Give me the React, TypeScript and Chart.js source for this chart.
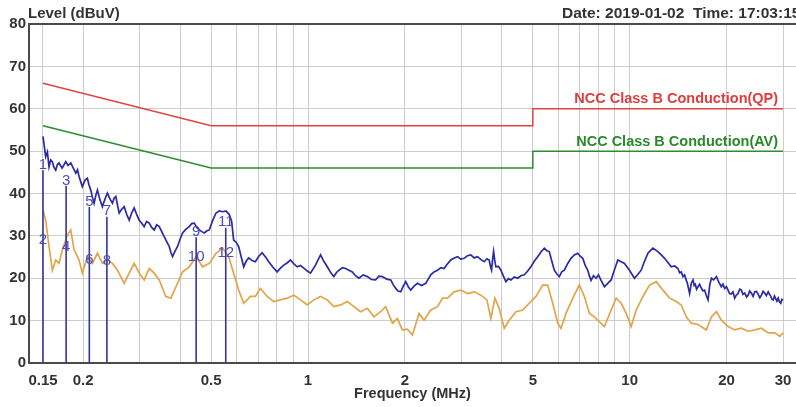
import React, { useEffect, useRef } from "react";
import { Chart, registerables } from "chart.js";

Chart.register(...registerables);

// ---- Data (frequency in MHz, level in dBuV) ----
const blueFreq = [
  0.150, 0.1515, 0.1529, 0.1548, 0.1566, 0.1585, 0.1604, 0.1622, 0.1643, 0.1662,
  0.1682, 0.1720, 0.1765, 0.1795, 0.1830, 0.1860, 0.1897, 0.1920, 0.1942, 0.1965,
  0.1988, 0.2025, 0.2061, 0.2085, 0.2112, 0.2135, 0.2163, 0.2190, 0.2215, 0.2255,
  0.2295, 0.2335, 0.2379, 0.2420, 0.2466, 0.2495, 0.2527, 0.2558, 0.2588, 0.2635,
  0.2682, 0.2730, 0.2780, 0.2830, 0.2881, 0.2935, 0.2987, 0.3040, 0.3095, 0.3150,
  0.3209, 0.3265, 0.3326, 0.3385, 0.3447, 0.3510, 0.3572, 0.3640, 0.3703, 0.3750,
  0.3792, 0.3860, 0.3931, 0.4000, 0.4075, 0.4175, 0.4275, 0.4350, 0.4431, 0.4510,
  0.4593, 0.4680, 0.4761, 0.4850, 0.4933, 0.5050, 0.5177, 0.5300, 0.5428, 0.5560,
  0.5695, 0.5790, 0.5873, 0.5980, 0.6088, 0.6200, 0.6311, 0.6420, 0.6542, 0.6700,
  0.6862, 0.7030, 0.7200, 0.7380, 0.7551, 0.7780, 0.8018, 0.8210, 0.8408, 0.8610,
  0.8822, 0.9040, 0.9258, 0.9480, 0.9707, 0.9950, 1.018, 1.055, 1.094, 1.120,
  1.148, 1.175, 1.203, 1.225, 1.248, 1.280, 1.309, 1.340, 1.373, 1.405,
  1.440, 1.485, 1.529, 1.575, 1.623, 1.660, 1.703, 1.755, 1.808, 1.840,
  1.874, 1.905, 1.942, 1.975, 2.013, 2.050, 2.086, 2.140, 2.189, 2.255,
  2.323, 2.365, 2.408, 2.465, 2.527, 2.590, 2.649, 2.715, 2.780, 2.850,
  2.917, 2.985, 3.058, 3.130, 3.208, 3.285, 3.366, 3.450, 3.530, 3.600,
  3.658, 3.700, 3.722, 3.750, 3.776, 3.810, 3.839, 3.910, 3.979, 4.050,
  4.124, 4.200, 4.275, 4.380, 4.485, 4.590, 4.704, 4.820, 4.933, 5.050,
  5.177, 5.300, 5.428, 5.530, 5.625, 5.730, 5.831, 5.940, 6.044, 6.150,
  6.265, 6.420, 6.573, 6.730, 6.897, 7.020, 7.149, 7.280, 7.410, 7.500,
  7.587, 7.720, 7.865, 8.000, 8.152, 8.348, 8.550, 8.759, 8.970, 9.189,
  9.410, 9.636, 9.988, 10.35, 10.60, 10.86, 11.12, 11.40, 11.81, 12.24,
  12.54, 12.84, 13.15, 13.47, 13.80, 14.13, 14.30, 14.47, 14.65, 14.82,
  15.00, 15.10, 15.25, 15.36, 15.55, 15.74, 15.87, 16.00, 16.15, 16.31,
  16.50, 16.70, 16.90, 17.10, 17.30, 17.53, 17.75, 17.96, 18.25, 18.61,
  18.95, 19.28, 19.50, 19.75, 20.00, 20.23, 20.45, 20.70, 20.95, 21.21,
  21.45, 21.70, 22.00, 22.26, 22.50, 22.80, 23.10, 23.36, 23.60, 23.90,
  24.20, 24.49, 24.80, 25.10, 25.40, 25.69, 26.00, 26.30, 26.60, 26.96,
  27.20, 27.45, 27.70, 27.95, 28.20, 28.45, 28.70, 28.97, 29.20, 29.50,
  29.75, 30.00,
];
const blueLevel = [
  53.5, 51.0, 48.7, 49.8, 46.3, 47.9, 47.5, 46.2, 45.5, 46.8,
  47.2, 46.0, 47.5, 46.6, 47.2, 46.1, 44.8, 45.6, 44.0, 42.8,
  41.6, 43.1, 43.6, 42.0, 40.8, 39.2, 37.7, 39.6, 40.8, 38.5,
  36.9, 38.6, 40.1, 38.8, 37.7, 38.9, 39.3, 37.2, 35.4, 36.3,
  36.9, 35.1, 33.7, 35.4, 36.6, 35.0, 33.7, 33.0, 32.2, 33.4,
  33.0, 32.0, 31.4, 32.6, 32.2, 31.0, 29.8, 28.6, 27.5, 26.0,
  25.1, 26.4, 27.5, 29.2, 30.7, 31.6, 32.2, 32.9, 33.0, 32.0,
  31.4, 31.0, 30.7, 31.2, 31.4, 33.6, 35.4, 35.9, 35.7, 35.9,
  35.0, 33.4, 29.0, 28.5, 27.5, 25.0, 22.7, 24.0, 24.8, 24.2,
  23.9, 25.2, 26.0, 25.0, 23.9, 22.6, 21.5, 22.4, 23.1, 23.6,
  24.3, 23.4, 22.7, 23.0, 22.4, 21.7, 21.2, 23.1, 25.5, 24.0,
  22.7, 21.4, 20.4, 21.3, 21.9, 22.5, 22.3, 21.9, 21.5, 20.6,
  20.0, 20.8, 20.4, 19.7, 19.6, 20.5, 20.4, 19.8, 19.6, 18.5,
  17.6, 17.0, 16.8, 18.0, 19.2, 18.0, 17.2, 18.2, 18.8, 18.3,
  18.8, 19.8, 20.8, 21.5, 21.9, 22.5, 22.3, 23.4, 24.3, 24.8,
  25.1, 24.5, 24.7, 25.3, 25.5, 24.8, 25.1, 24.4, 23.9, 24.6,
  24.3, 22.5, 21.9, 24.5, 26.3, 24.0, 22.7, 22.8, 21.9, 20.5,
  19.2, 19.9, 19.6, 20.3, 20.0, 20.6, 20.8, 21.7, 22.7, 24.0,
  25.1, 26.2, 27.1, 26.5, 26.3, 24.0, 21.9, 21.0, 20.4, 21.5,
  21.9, 23.5, 24.7, 25.5, 25.9, 25.2, 24.7, 23.0, 21.9, 20.5,
  19.5, 20.6, 20.0, 20.8, 19.5, 18.0, 18.8, 19.6, 22.0, 24.3,
  23.9, 23.5, 21.9, 20.0, 20.9, 21.9, 24.0, 25.9, 27.1, 26.3,
  25.5, 24.7, 23.7, 22.7, 22.9, 22.3, 21.3, 21.5, 20.4, 20.8,
  19.5, 19.0, 17.5, 16.4, 18.8, 19.6, 18.3, 18.6, 17.4, 18.0,
  18.6, 17.7, 17.0, 17.2, 16.0, 14.9, 18.5, 20.0, 19.6, 20.4,
  19.0, 18.0, 18.6, 17.6, 18.0, 17.2, 16.4, 16.3, 16.8, 15.3,
  16.0, 16.3, 17.4, 17.2, 16.2, 16.5, 15.6, 16.0, 17.0, 16.5,
  15.7, 16.8, 16.9, 16.2, 15.4, 16.0, 16.9, 16.5, 15.9, 16.8,
  16.2, 15.8, 15.0, 14.9, 15.8, 15.2, 14.6, 15.3, 14.5, 14.1,
  15.0, 14.9,
];

const orangeFreq = [
  0.150, 0.1529, 0.1566, 0.1604, 0.1643, 0.1682, 0.1723, 0.1785, 0.1830, 0.1874,
  0.1942, 0.1988, 0.2061, 0.2136, 0.2215, 0.2295, 0.2379, 0.2466, 0.2557, 0.2682,
  0.2780, 0.2881, 0.2987, 0.3095, 0.3209, 0.3326, 0.3447, 0.3616, 0.3749, 0.3886,
  0.4075, 0.4275, 0.4485, 0.4703, 0.4933, 0.5177, 0.5428, 0.5668, 0.5873, 0.6088,
  0.6311, 0.6622, 0.6862, 0.7114, 0.7466, 0.7826, 0.8212, 0.8617, 0.9036, 0.9477,
  0.9946, 1.043, 1.094, 1.148, 1.203, 1.263, 1.325, 1.389, 1.457, 1.529,
  1.603, 1.682, 1.744, 1.830, 1.896, 1.965, 2.037, 2.112, 2.215, 2.295,
  2.408, 2.527, 2.619, 2.714, 2.846, 2.987, 3.133, 3.285, 3.447, 3.599,
  3.703, 3.811, 3.930, 4.074, 4.223, 4.431, 4.649, 4.873, 5.115, 5.366,
  5.563, 5.765, 5.975, 6.118, 6.342, 6.654, 6.977, 7.232, 7.496, 7.770,
  7.962, 8.348, 8.759, 9.080, 9.411, 9.755, 10.11, 10.48, 11.00, 11.53,
  12.10, 12.69, 13.31, 13.96, 14.47, 15.00, 15.54, 16.31, 17.31, 17.96,
  18.61, 19.28, 20.23, 21.21, 22.26, 23.36, 24.49, 25.69, 26.96, 28.26,
  29.30, 30.00,
];
const orangeLevel = [
  36.1, 33.7, 27.5, 21.9, 24.3, 23.5, 26.7, 30.2, 31.4, 26.7,
  24.3, 21.2, 25.1, 23.5, 25.9, 23.5, 24.3, 23.5, 21.9, 18.8,
  21.2, 23.5, 21.2, 19.6, 22.3, 21.2, 19.6, 15.7, 15.3, 18.0,
  21.5, 22.7, 25.1, 22.7, 23.5, 25.9, 27.1, 25.1, 21.2, 17.2,
  14.1, 15.7, 15.7, 17.6, 15.7, 14.5, 14.9, 15.3, 16.0, 14.9,
  13.7, 14.9, 15.7, 14.9, 13.3, 13.7, 14.5, 13.3, 12.1, 12.9,
  10.9, 12.1, 13.3, 9.4, 10.5, 7.8, 8.0, 6.6, 11.7, 10.1,
  12.5, 13.3, 15.3, 15.3, 16.8, 17.2, 16.4, 16.8, 16.0, 14.9,
  10.5, 15.3, 12.9, 8.2, 10.1, 12.1, 12.5, 14.1, 15.7, 18.4,
  18.4, 14.1, 9.4, 8.2, 11.7, 15.3, 18.4, 15.7, 11.7, 10.9,
  10.1, 8.6, 12.5, 15.3, 14.1, 11.7, 8.6, 12.5, 15.7, 18.4,
  19.2, 17.2, 15.3, 14.5, 13.7, 10.9, 9.4, 9.1, 7.8, 10.9,
  12.1, 10.1, 8.6, 7.8, 8.2, 7.5, 7.8, 8.2, 7.1, 7.1,
  6.3, 7.1,
];

const qpFreq = [0.15, 0.5, 5, 5, 30];
const qpLevel = [66, 56, 56, 60, 60];
const avFreq = [0.15, 0.5, 5, 5, 30];
const avLevel = [56, 46, 46, 50, 50];

const markerNo = [1, 2, 3, 4, 5, 6, 7, 8, 9, 10, 11, 12];
const markerFreq = [0.15, 0.15, 0.177, 0.177, 0.209, 0.209, 0.237, 0.237, 0.449, 0.449, 0.555, 0.555];
const markerLevel = [45.5, 27.8, 41.8, 26.0, 36.8, 23.1, 34.5, 22.7, 29.7, 23.8, 31.9, 24.8];

const gridFreqs = [0.15, 0.2, 0.3, 0.4, 0.5, 0.6, 0.7, 0.8, 0.9, 1, 2, 3, 4, 5, 6, 7, 8, 9, 10, 20, 30];
const labeledFreqs = [0.15, 0.2, 0.5, 1, 2, 5, 10, 20, 30];
const yTicks = [0, 10, 20, 30, 40, 50, 60, 70, 80];

const qpLabel = "NCC Class B Conduction(QP)";
const avLabel = "NCC Class B Conduction(AV)";
const yTitle = "Level (dBuV)";
const dateText = "Date: 2019-01-02  Time: 17:03:15";
const xTitle = "Frequency (MHz)";

const FONT = '"Liberation Sans", Arial, sans-serif';

const toXY = (fs: number[], vs: number[]) => fs.map((f, i) => ({ x: f, y: vs[i] }));

export default function App() {
  const ref = useRef<HTMLCanvasElement>(null);

  useEffect(() => {
    if (!ref.current) return;
    const markerData: any[] = [];
    markerFreq.forEach((f, i) => {
      markerData.push({ x: f, y: 0 });
      markerData.push({ x: f, y: markerLevel[i] });
      markerData.push({ x: f, y: null });
    });

    const overlay = {
      id: "overlay",
      afterDatasetsDraw(chart: any) {
        const { ctx } = chart;
        const x = chart.scales.x;
        const y = chart.scales.y;
        ctx.save();
        // marker numbers
        ctx.font = `15px ${FONT}`;
        ctx.fillStyle = "#4b4bc2";
        ctx.textAlign = "center";
        ctx.textBaseline = "bottom";
        markerNo.forEach((n, i) => {
          ctx.fillText(String(n), x.getPixelForValue(markerFreq[i]), y.getPixelForValue(markerLevel[i]) + 2);
        });
        // limit labels
        ctx.font = `bold 14.5px ${FONT}`;
        ctx.textAlign = "right";
        ctx.textBaseline = "middle";
        ctx.fillStyle = "#e03c3c";
        ctx.fillText(qpLabel, x.getPixelForValue(30) - 5, y.getPixelForValue(qpLevel[qpLevel.length - 1]) - 10);
        ctx.fillStyle = "#2a8a2a";
        ctx.fillText(avLabel, x.getPixelForValue(30) - 5, y.getPixelForValue(avLevel[avLevel.length - 1]) - 9);
        // header texts
        ctx.fillStyle = "#333";
        ctx.textAlign = "left";
        ctx.font = `bold 15px ${FONT}`;
        ctx.fillText(yTitle, chart.chartArea.left - 1, 14);
        ctx.font = `bold 15.5px ${FONT}`;
        ctx.fillText(dateText, 562, 14);
        ctx.restore();
      },
    };

    const chart = new Chart(ref.current, {
      type: "line",
      data: {
        datasets: [
          {
            data: markerData,
            borderColor: "#35359a",
            borderWidth: 1.6,
            pointRadius: 0,
            spanGaps: false,
            order: 0,
          },
          {
            data: toXY(blueFreq, blueLevel),
            borderColor: "#2a2aa6",
            borderWidth: 1.7,
            pointRadius: 0,
            order: 1,
          },
          {
            data: toXY(orangeFreq, orangeLevel),
            borderColor: "#e3a449",
            borderWidth: 1.7,
            pointRadius: 0,
            order: 2,
          },
          {
            data: toXY(qpFreq, qpLevel),
            borderColor: "#e04444",
            borderWidth: 1.5,
            pointRadius: 0,
            order: 3,
          },
          {
            data: toXY(avFreq, avLevel),
            borderColor: "#2e8b2e",
            borderWidth: 1.5,
            pointRadius: 0,
            order: 3,
          },
        ],
      } as any,
      options: {
        responsive: false,
        animation: false,
        events: [],
        layout: { padding: { top: 24, left: 0, right: 0, bottom: 0 } },
        plugins: {
          legend: { display: false },
          tooltip: { enabled: false },
          title: { display: false },
        },
        scales: {
          x: {
            type: "logarithmic",
            min: 0.1357,
            max: 32.9,
            afterBuildTicks: (s: any) => {
              s.ticks = gridFreqs.map((v) => ({ value: v }));
            },
            afterFit: (s: any) => {
              s.height = 44;
              s.paddingLeft = 0;
              s.paddingRight = 0;
            },
            grid: { color: "#cdcdcd", lineWidth: 1, drawTicks: false },
            border: { display: true, color: "#4a4a4a", width: 2 },
            ticks: {
              autoSkip: false,
              maxRotation: 0,
              minRotation: 0,
              padding: 9,
              color: "#333",
              font: { family: FONT, size: 15, weight: "bold" },
              callback: (v: any) => (labeledFreqs.includes(Number(v)) ? String(v) : ""),
            },
            title: {
              display: true,
              text: xTitle,
              color: "#333",
              font: { family: FONT, size: 14.5, weight: "bold" },
              padding: { top: 0, bottom: 4 },
            },
          },
          y: {
            type: "linear",
            min: 0,
            max: 80,
            afterBuildTicks: (s: any) => {
              s.ticks = yTicks.map((v) => ({ value: v }));
            },
            afterFit: (s: any) => {
              s.width = 29;
              s.paddingTop = 0;
              s.paddingBottom = 0;
            },
            grid: {
              color: (c: any) => (c.tick && c.tick.value === 80 ? "#4a4a4a" : "#cdcdcd"),
              lineWidth: (c: any) => (c.tick && c.tick.value === 80 ? 2 : 1),
              drawTicks: false,
            },
            border: { display: true, color: "#4a4a4a", width: 2 },
            ticks: {
              padding: 3,
              color: "#333",
              font: { family: FONT, size: 15, weight: "bold" },
            },
          },
        },
      } as any,
      plugins: [overlay],
    });
    return () => chart.destroy();
  }, []);

  return (
    <div style={{ position: "fixed", left: 0, top: 0, width: 796, height: 407, background: "#fff" }}>
      <canvas ref={ref} width={796} height={407} style={{ width: 796, height: 407, display: "block" }} />
    </div>
  );
}
